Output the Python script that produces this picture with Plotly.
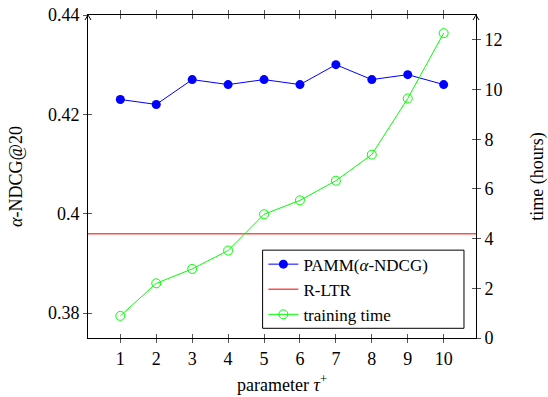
import plotly.graph_objects as go

# ---- data ----
tau = [1, 2, 3, 4, 5, 6, 7, 8, 9, 10]
pamm_ndcg = [0.423, 0.422, 0.427, 0.426, 0.427, 0.426, 0.430, 0.427, 0.428, 0.426]
rltr_ndcg = 0.396
train_hours = [0.89, 2.2, 2.78, 3.52, 4.98, 5.54, 6.33, 7.38, 9.64, 12.27]

x_ticks = [1, 2, 3, 4, 5, 6, 7, 8, 9, 10]
y_ticks = [0.38, 0.40, 0.42, 0.44]
y_ticktext = ["0.38", "0.4", "0.42", "0.44"]
t_ticks = [0, 2, 4, 6, 8, 10, 12]

x_range = [0.1, 10.9]
y_range = [0.375, 0.44]
t_range = [0, 13]

FONT = "Liberation Serif"
FS = 18

fig = go.Figure()
fig.add_trace(go.Scatter(
    x=tau, y=pamm_ndcg, mode="lines+markers", name="PAMM(<i>α</i>-NDCG)",
    line=dict(color="#0000ff", width=1),
    marker=dict(symbol="circle", size=9, color="#0000ff"),
    xaxis="x", yaxis="y"))
fig.add_trace(go.Scatter(
    x=x_range, y=[rltr_ndcg, rltr_ndcg], mode="lines", name="R-LTR",
    line=dict(color="rgb(255,80,80)", width=1.5),
    xaxis="x", yaxis="y"))
fig.add_trace(go.Scatter(
    x=tau, y=train_hours, mode="lines+markers", name="training time",
    line=dict(color="#00ff00", width=1),
    marker=dict(symbol="circle-open", size=9, color="#00ff00", line=dict(width=1)),
    xaxis="x", yaxis="y2"))

axis_common = dict(showgrid=False, zeroline=False, linecolor="black", linewidth=1,
                   tickcolor="#555", tickwidth=1, ticklen=4, automargin=False,
                   tickfont=dict(family=FONT, size=FS, color="black"))

fig.update_layout(
    width=548, height=397,
    margin=dict(l=88, r=72, t=15, b=59),
    paper_bgcolor="white", plot_bgcolor="white",
    font=dict(family=FONT, size=FS, color="black"),
    showlegend=True,
    legend=dict(x=0.452, y=0.283, xanchor="left", yanchor="top",
                borderwidth=0, bgcolor="rgba(0,0,0,0)",
                font=dict(family=FONT, size=17), tracegroupgap=0,
                itemwidth=30),
    xaxis=dict(range=x_range, tickvals=x_ticks, ticks="outside", mirror="ticks",
               showline=True,
               title=dict(text="parameter <i>τ</i><sup>+</sup>", standoff=10,
                          font=dict(family=FONT, size=FS)),
               **axis_common),
    xaxis2=dict(range=x_range, tickvals=x_ticks, ticks="inside", mirror="ticks",
                overlaying="x", showticklabels=False, showline=True, **axis_common),
    yaxis=dict(range=y_range, tickvals=y_ticks, ticktext=y_ticktext, ticks="outside",
               showline=True,
               title=dict(text="<i>α</i>-NDCG@20", standoff=20,
                          font=dict(family=FONT, size=FS)),
               **axis_common),
    yaxis3=dict(range=y_range, tickvals=y_ticks, ticks="inside", overlaying="y",
                showticklabels=False, showline=True, side="left", anchor="x", **axis_common),
    yaxis2=dict(range=t_range, tickvals=t_ticks, ticks="outside", overlaying="y",
                side="right", anchor="x", showline=True,
                title=dict(text="time (hours)", standoff=31,
                           font=dict(family=FONT, size=FS)),
                **axis_common),
    yaxis4=dict(range=t_range, tickvals=t_ticks, ticks="inside", overlaying="y",
                side="right", anchor="x", showticklabels=False, showline=True,
                **axis_common),
)

# dummy invisible traces so overlay axes are drawn
fig.add_trace(go.Scatter(x=[None], y=[None], xaxis="x2", yaxis="y3", showlegend=False, hoverinfo="skip"))
fig.add_trace(go.Scatter(x=[None], y=[None], xaxis="x2", yaxis="y4", showlegend=False, hoverinfo="skip"))

# legend frame
fig.add_shape(type="rect", xref="paper", yref="paper", x0=0.450, x1=0.969, y0=0.030, y1=0.272,
              line=dict(color="black", width=1), fillcolor="white", layer="above")

# arrow tips at top of the y axes
for xp in (0, 1):
    fig.add_shape(type="path", xref="paper", yref="paper",
                  xsizemode="pixel", ysizemode="pixel", xanchor=xp, yanchor=1,
                  path="M -3 -5 L 0 0 L 3 -5", line=dict(color="black", width=1))

fig.write_html("out.html", config={"displayModeBar": False},
               post_script="document.body.style.margin='0';document.body.style.padding='0';")
